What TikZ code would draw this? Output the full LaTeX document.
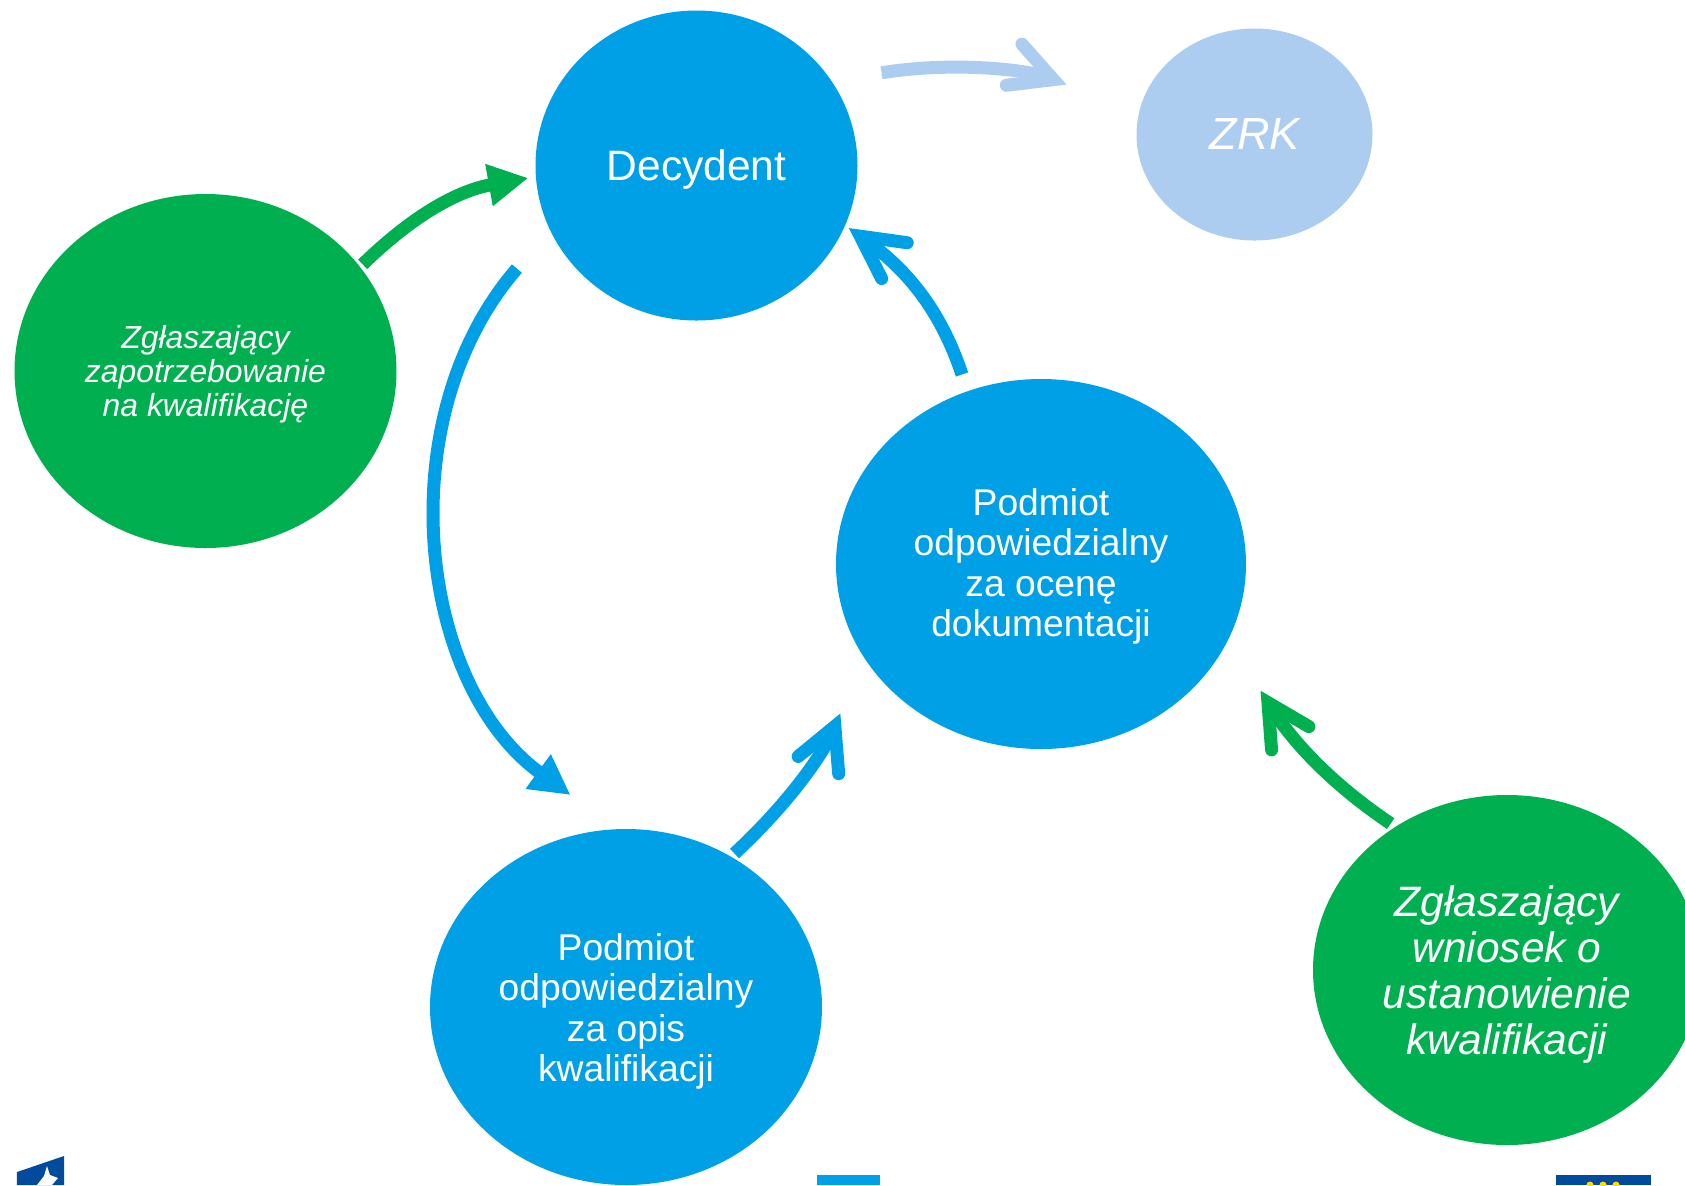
\documentclass[tikz,border=0pt]{standalone}
\usepackage{fontspec}
\setmainfont{Liberation Sans}
\usetikzlibrary{shapes.geometric,arrows.meta}

\definecolor{kolblue}{RGB}{0,160,230}
\definecolor{kolgreen}{RGB}{0,176,80}
\definecolor{kollight}{RGB}{172,205,240}
\definecolor{koldark}{RGB}{0,75,155}

\newcommand{\lift}[1]{\rule{0pt}{#1em}}

\tikzstyle{bag} = [ellipse, inner sep=0pt, text=white, align=center]
\tikzstyle{lnk} = [line width=.13cm, -{Straight Barb[length=.42cm,width=.44cm,line cap=round,line join=miter]}]
\tikzstyle{lnks} = [line width=.13cm, -{Triangle[length=.4cm,width=.4cm]}]

\begin{document}
\begin{tikzpicture}
  \useasboundingbox (0,0) rectangle (16.85,-11.85);
  \node (dec) at (6.965,-1.655) [bag, fill=kolblue, minimum width=3.22cm, minimum height=3.1cm, font=\fontsize{12.1}{14}\selectfont] {\lift{.9}Decydent};
  \node (zrk) at (12.545,-1.345) [bag, fill=kollight, minimum width=2.36cm, minimum height=2.12cm, font=\fontsize{12.8}{15}\selectfont\itshape] {ZRK};
  \node (zap) at (2.055,-3.71) [bag, fill=kolgreen, minimum width=3.82cm, minimum height=3.54cm, font=\fontsize{9.07}{9.8}\selectfont\itshape] {\lift{.93}Zgłaszający\\zapotrzebowanie\\na kwalifikację};
  \node (oce) at (10.41,-5.64) [bag, fill=kolblue, minimum width=4.1cm, minimum height=3.7cm, font=\fontsize{10.6}{11.5}\selectfont] {\lift{.85}Podmiot\\odpowiedzialny\\za ocenę\\dokumentacji};
  \node (opi) at (6.26,-10.07) [bag, fill=kolblue, minimum width=3.92cm, minimum height=3.56cm, font=\fontsize{10.6}{11.5}\selectfont] {\lift{.96}Podmiot\\odpowiedzialny\\za opis\\kwalifikacji};
  \node (wni) at (15.07,-9.7) [bag, fill=kolgreen, minimum width=3.88cm, minimum height=3.5cm, font=\fontsize{12.1}{13.1}\selectfont\itshape] {\lift{.93}Zgłaszający\\wniosek o\\ustanowienie\\kwalifikacji};
  \draw [lnks, kolgreen, shorten <=.03cm, shorten >=.07cm] (zap.34) to [bend left=17] (dec.184);
  \draw [lnks, kolblue, shorten <=.5cm, shorten >=.57cm] (dec.204) to [out=229, in=144, looseness=1.05] (opi.93);
  \draw [lnk, kolblue, shorten <=.04cm, shorten >=.6cm] (opi.55) to [out=43, in=247] (oce.208);
  \draw [lnk, kolblue, shorten <=.17cm, shorten >=.04cm] (oce.113) to [bend right=18] (dec.338);
  \draw [lnk, kollight, shorten <=.5cm, shorten >=.77cm] (dec.32) to [bend left=15] (zrk.169);
  \draw [lnk, kolgreen, shorten <=.05cm, shorten >=.6cm] (wni.128) to [out=146, in=302] (oce.338);
  \fill [koldark] (.17,-11.72) -- (.64,-11.56) -- (.64,-11.85) -- (.17,-11.85) -- cycle;
  \fill [white] (.37,-11.85) -- (.44,-11.76) -- (.47,-11.66) -- (.5,-11.75) -- (.58,-11.78) -- (.52,-11.85) -- cycle;
  \fill [kolblue] (8.17,-11.75) rectangle (8.8,-11.85);
  \fill [koldark] (15.56,-11.75) rectangle (16.51,-11.85);
  \foreach \sx in {15.9,16.03,16.16}
    \fill [yellow!80!orange] (\sx,-11.85) circle (.035);
\end{tikzpicture}
\end{document}
